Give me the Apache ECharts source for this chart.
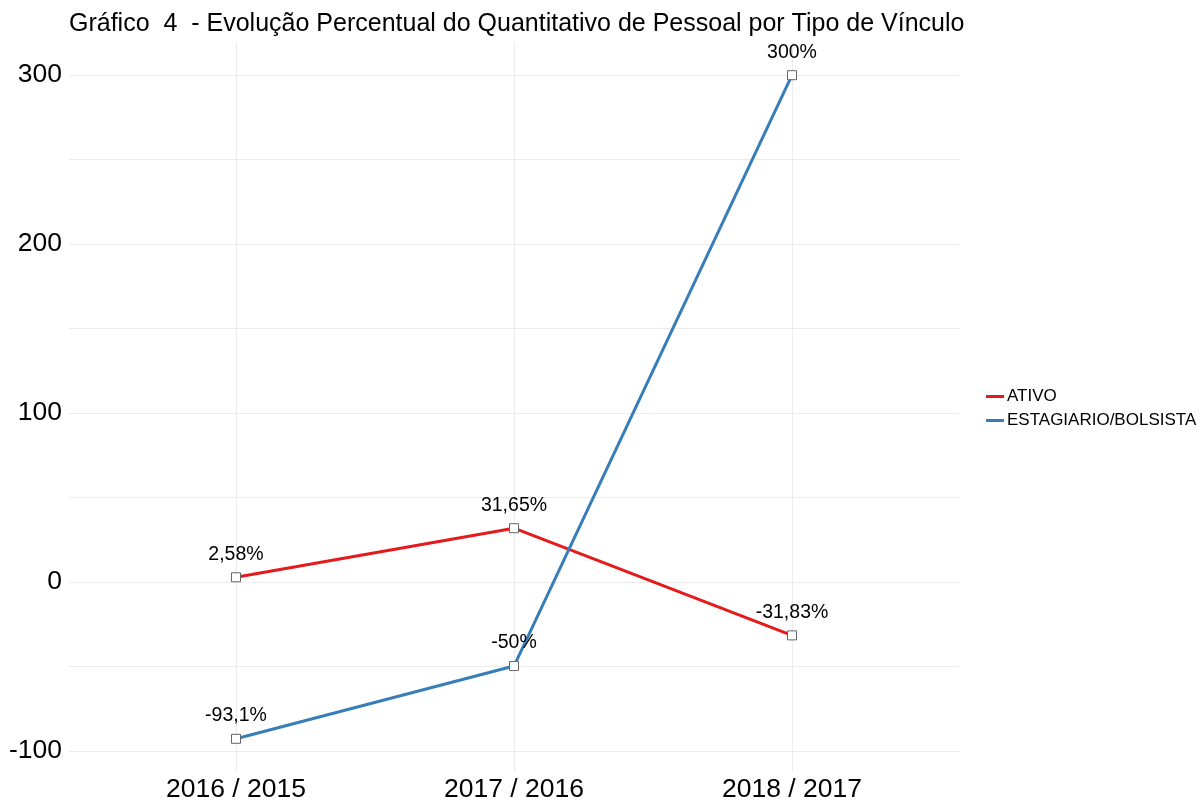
<!DOCTYPE html>
<html>
<head>
<meta charset="utf-8">
<script src="https://cdn.jsdelivr.net/npm/echarts@6/dist/echarts.min.js"></script>
<style>
  html, body { margin: 0; padding: 0; background: #fff; }
  #chart { width: 1204px; height: 803px; }
</style>
</head>
<body>
<div id="chart"></div>
<script>
// dados
var categorias = ['2016 / 2015', '2017 / 2016', '2018 / 2017'];
var ativo = [2.58, 31.65, -31.83];
var estagiario = [-93.1, -50, 300];
var rotulosAtivo = ['2,58%', '31,65%', '-31,83%'];
var rotulosEstagiario = ['-93,1%', '-50%', '300%'];
var ticksY = [-100, 0, 100, 200, 300];

var font = 'Liberation Sans, Arial, sans-serif';
var corAtivo = '#E41A1C';
var corEstagiario = '#377EB8';

function serie(nome, cor, valores, rotulos) {
    return {
        name: nome,
        type: 'line',
        xAxisIndex: 1,
        yAxisIndex: 1,
        data: valores.map(function (v, i) {
            return { value: v, label: { formatter: rotulos[i] } };
        }),
        symbol: 'rect',
        symbolSize: 9,
        z: 5,
        lineStyle: { color: cor, width: 3 },
        itemStyle: { color: '#fff', borderColor: '#666', borderWidth: 1 },
        label: {
            show: true,
            position: 'top',
            distance: 8,
            color: '#000',
            fontSize: 19.5,
            fontFamily: font
        },
        emphasis: { disabled: true },
        animation: false
    };
}

var series = [
    serie('ATIVO', corAtivo, ativo, rotulosAtivo),
    serie('ESTAGIARIO/BOLSISTA', corEstagiario, estagiario, rotulosEstagiario)
];
// linhas de grade verticais
series.push({
    type: 'line',
    xAxisIndex: 1,
    yAxisIndex: 1,
    data: [],
    silent: true,
    markLine: {
        symbol: 'none',
        silent: true,
        label: { show: false },
        lineStyle: { color: '#ebebeb', type: 'solid', width: 1 },
        data: categorias.map(function (c) { return { xAxis: c }; })
    },
    z: 0,
    animation: false
});

var chart = echarts.init(document.getElementById('chart'), null, { renderer: 'canvas' });
chart.setOption({
    backgroundColor: '#fff',
    animation: false,
    title: {
        text: 'Gráfico  4  - Evolução Percentual do Quantitativo de Pessoal por Tipo de Vínculo',
        left: 64,
        top: 7,
        textStyle: { fontSize: 25, fontWeight: 'normal', color: '#000', fontFamily: font }
    },
    legend: {
        orient: 'vertical',
        left: 981,
        top: 383,
        itemWidth: 18,
        itemHeight: 3,
        itemGap: 7,
        icon: 'rect',
        data: [
            { name: 'ATIVO', itemStyle: { color: corAtivo, borderColor: corAtivo, borderWidth: 0 } },
            { name: 'ESTAGIARIO/BOLSISTA', itemStyle: { color: corEstagiario, borderColor: corEstagiario, borderWidth: 0 } }
        ],
        textStyle: { fontSize: 17, color: '#000', fontFamily: font, padding: [0, 0, 0, -2] }
    },
    grid: [
        { left: 69, width: 890, top: 75, height: 676 },
        { left: 97, width: 834, top: 42, height: 731 }
    ],
    xAxis: [
        { gridIndex: 0, type: 'value', show: false },
        {
            gridIndex: 1,
            type: 'category',
            data: categorias,
            boundaryGap: true,
            axisLine: { show: false },
            axisTick: { show: false },
            splitLine: { show: false },
            axisLabel: { fontSize: 26.5, color: '#000', fontFamily: font, margin: 4 }
        }
    ],
    yAxis: [
        {
            gridIndex: 0,
            type: 'value',
            min: -100,
            max: 300,
            interval: 50,
            axisLine: { show: false },
            axisTick: { show: false },
            splitLine: { lineStyle: { color: '#ebebeb', width: 1 } },
            axisLabel: {
                fontSize: 26.5,
                color: '#000',
                fontFamily: font,
                margin: 7,
                formatter: function (v) { return ticksY.indexOf(v) >= 0 ? String(v) : ''; }
            }
        },
        {
            gridIndex: 1,
            type: 'value',
            min: -112.76,
            max: 319.66,
            show: false,
            splitLine: { show: false }
        }
    ],
    series: series
});
</script>
</body>
</html>
